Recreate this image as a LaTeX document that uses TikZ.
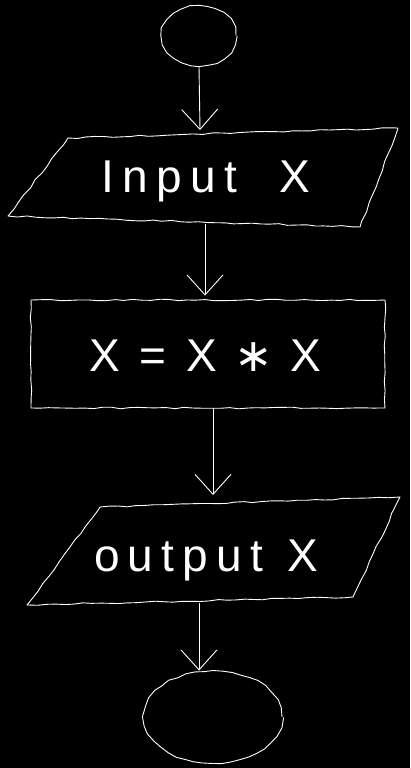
\documentclass[tikz,border=0pt]{standalone}
\usepackage{fontspec}
\setmainfont{Liberation Sans}[LetterSpace=18.0]
\newfontfamily\starfont{DejaVu Sans}
\usetikzlibrary{arrows.meta,decorations.pathmorphing,shapes.geometric}
\begin{document}
\begin{tikzpicture}[x=1pt,y=-1pt,line width=0.9pt,
  hand/.style={draw=white,decorate,decoration={random steps,segment length=9pt,amplitude=0.8pt},line join=round},
  flow/.style={draw=white,-{Straight Barb[length=20pt,width=36pt,line width=0.9pt]}},
  txt/.style={text=white,font=\fontsize{46}{52}\selectfont,inner sep=0pt}]
\pgfmathsetseed{7}
\fill[black] (0,0) rectangle (410,768);
\useasboundingbox (0,0) rectangle (410,768);
% terminals
\node[hand,ellipse,minimum width=74pt,minimum height=60pt,inner sep=0pt] (start) at (199,36) {};
\node[hand,ellipse,minimum width=138pt,minimum height=92pt,inner sep=0pt] (stop) at (213,717) {};
% input
\draw[hand] (68,138) -- (398,128) -- (360,227) -- (8,216) -- cycle;
\node[txt] (inp) at (206,181) {Input\hspace{42pt}X};
\coordinate (inpT) at (200,130);
\coordinate (inpB) at (205,224);
% process
\node[hand,rectangle,minimum width=354pt,minimum height=108pt,inner sep=0pt] (proc) at (208,354) {};
\node[txt] (proctxt) at (205,356) {X\hspace{20pt}=\hspace{20pt}X\hspace{17pt}{\starfont ∗}\hspace{17pt}X};
% output
\draw[hand] (100,507) -- (400,497) -- (353,597) -- (27,605) -- cycle;
\node[txt] (outp) at (206,560) {output\hspace{24pt}X};
\coordinate (outT) at (213,495);
\coordinate (outB) at (199,603);
% connectors
\draw[flow] (start.south) -- (inpT);
\draw[flow,shorten >=4pt] (inpB) -- (inpB |- proc.north);
\draw[flow] (proc.south -| outT) -- (outT);
\draw[flow] (outB) -- (outB |- stop.north);
\end{tikzpicture}
\end{document}
